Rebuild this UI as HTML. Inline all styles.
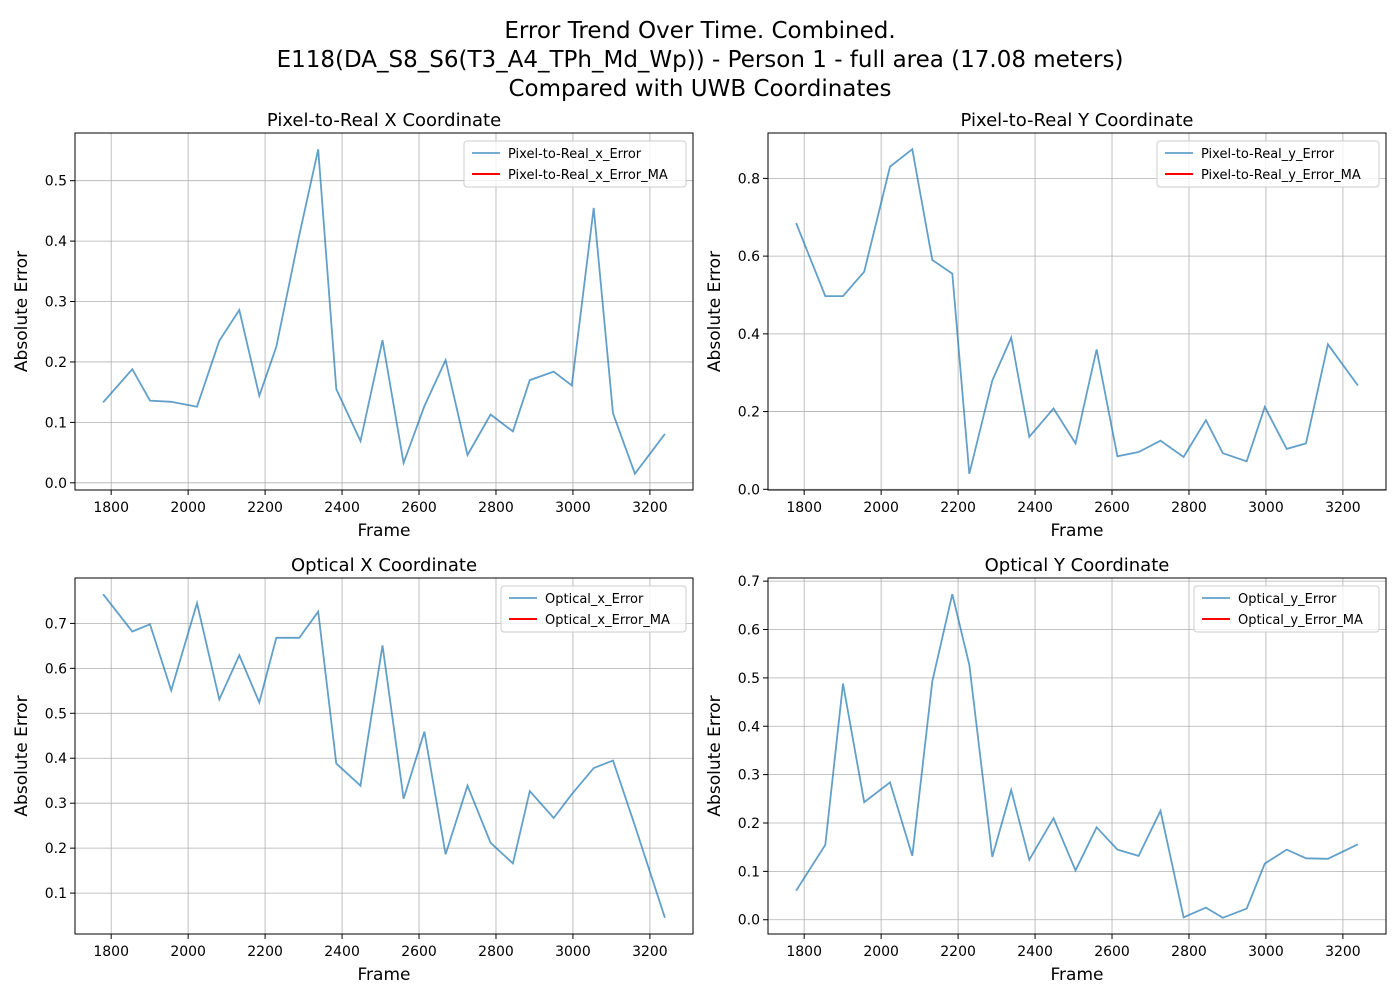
<!DOCTYPE html>
<html><head><meta charset="utf-8"><style>
body{margin:0;background:#fff;}
svg{font-family:"DejaVu Sans","Liberation Sans",sans-serif;}
</style></head><body>
<svg id="fig" width="1400" height="1000">
<text x="700" y="38" text-anchor="middle" font-size="23">Error Trend Over Time. Combined.</text>
<text x="700" y="67" text-anchor="middle" font-size="23">E118(DA_S8_S6(T3_A4_TPh_Md_Wp)) - Person 1 - full area (17.08 meters)</text>
<text x="700" y="96" text-anchor="middle" font-size="23">Compared with UWB Coordinates</text>
</svg>
<script>
const frames=[1779,1855,1901,1956,2023,2081,2133,2185,2229,2289,2338,2385,2448,2505,2560,2614,2669,2726,2786,2844,2888,2950,2997,3054,3104,3161,3239];
const pxErr=[0.133,0.188,0.136,0.134,0.126,0.235,0.286,0.144,0.225,0.41,0.552,0.155,0.069,0.236,0.033,0.127,0.203,0.046,0.113,0.085,0.170,0.184,0.161,0.455,0.115,0.015,0.081];
const pyErr=[0.685,0.497,0.497,0.56,0.83,0.875,0.59,0.555,0.04,0.28,0.39,0.135,0.208,0.118,0.36,0.085,0.096,0.125,0.083,0.178,0.093,0.072,0.212,0.104,0.118,0.373,0.267];
const oxErr=[0.765,0.682,0.698,0.551,0.745,0.531,0.629,0.524,0.668,0.668,0.726,0.388,0.339,0.651,0.310,0.459,0.186,0.339,0.212,0.166,0.327,0.267,0.32,0.378,0.395,0.25,0.045];
const oyErr=[0.06,0.155,0.488,0.243,0.284,0.132,0.493,0.673,0.527,0.13,0.268,0.124,0.21,0.102,0.191,0.145,0.132,0.225,0.005,0.025,0.004,0.023,0.116,0.145,0.127,0.126,0.156];
const xTicks=[1800,2000,2200,2400,2600,2800,3000,3200];
const yTicksTL=[0,0.1,0.2,0.3,0.4,0.5];
const yTicksTR=[0,0.2,0.4,0.6,0.8];
const yTicksBL=[0.1,0.2,0.3,0.4,0.5,0.6,0.7];
const yTicksBR=[0,0.1,0.2,0.3,0.4,0.5,0.6,0.7];
const NS='http://www.w3.org/2000/svg';
const fig=document.getElementById('fig');
function mk(tag,attrs,parent,text){const e=document.createElementNS(NS,tag);for(const k in attrs)e.setAttribute(k,attrs[k]);if(text!==undefined)e.textContent=text;(parent||fig).appendChild(e);return e;}
function panel(o){
  const g=mk('g',{});
  
  
  const L=o.x0,R=o.x1,T=o.y0,B=o.y1;
  const xs=v=>L+(v-1706)/(3312-1706)*(R-L);
  const ys=v=>B-(v-o.ymin)/(o.ymax-o.ymin)*(B-T);
  xTicks.forEach(t=>{const x=xs(t);
    const gl=mk('line',{x1:x,x2:x,y1:T,y2:B,stroke:'#b0b0b0','stroke-width':0.8},g);
    
    mk('line',{x1:x,x2:x,y1:B,y2:B+5,stroke:'#000'},g);
    const tl=mk('text',{x:x,y:B+22,'text-anchor':'middle','font-size':14},g,String(t));
    });
  o.yt.forEach(t=>{const y=ys(t);
    const gl=mk('line',{x1:L,x2:R,y1:y,y2:y,stroke:'#b0b0b0','stroke-width':0.8},g);
    
    mk('line',{x1:L-5,x2:L,y1:y,y2:y,stroke:'#000'},g);
    const tl=mk('text',{x:L-8,y:y+5,'text-anchor':'end','font-size':14},g,t.toFixed(1));
    });
  const pts=frames.map((f,i)=>xs(f).toFixed(1)+','+ys(o.data[i]).toFixed(1)).join(' ');
  const ln=mk('polyline',{points:pts,fill:'none',stroke:'#1f77b4','stroke-opacity':0.7,'stroke-width':1.8},g);
  
  const fr=mk('rect',{x:L,y:T,width:R-L,height:B-T,fill:'none',stroke:'#000','stroke-width':1},g);
  
  const ti=mk('text',{x:(L+R)/2,y:T-7,'text-anchor':'middle','font-size':18},g,o.title);
  
  const xl=mk('text',{x:(L+R)/2,y:B+46,'text-anchor':'middle','font-size':17},g,'Frame');
  
  const yx=L-48,yy=(T+B)/2;
  const yl=mk('text',{x:yx,y:yy,'text-anchor':'middle','font-size':17,transform:`rotate(-90 ${yx} ${yy})`},g,'Absolute Error');
  
  const lw=o.lw, lx=R-7-lw, ly=T+8;
  const lg=mk('g',{},g);
  
  mk('rect',{x:lx,y:ly,width:lw,height:46,rx:3,fill:'#fff','fill-opacity':0.8,stroke:'#ccc'},lg);
  mk('line',{x1:lx+8,x2:lx+36,y1:ly+12,y2:ly+12,stroke:'#1f77b4','stroke-opacity':0.7,'stroke-width':1.8},lg);
  const e1=mk('text',{x:lx+44,y:ly+17,'font-size':13},lg,o.lab);
  
  mk('line',{x1:lx+8,x2:lx+36,y1:ly+33,y2:ly+33,stroke:'#ff0000','stroke-width':2},lg);
  const e2=mk('text',{x:lx+44,y:ly+38,'font-size':13},lg,o.lab+'_MA');
  
}
panel({name:'pixel-x-panel',x0:75,x1:693,y0:133,y1:490,ymin:-0.0119,ymax:0.5789,yt:yTicksTL,data:pxErr,title:'Pixel-to-Real X Coordinate',lab:'Pixel-to-Real_x_Error',lw:222});
panel({name:'pixel-y-panel',x0:768,x1:1386,y0:133,y1:490,ymin:-0.0018,ymax:0.9168,yt:yTicksTR,data:pyErr,title:'Pixel-to-Real Y Coordinate',lab:'Pixel-to-Real_y_Error',lw:222});
panel({name:'optical-x-panel',x0:75,x1:693,y0:578,y1:934,ymin:0.009,ymax:0.801,yt:yTicksBL,data:oxErr,title:'Optical X Coordinate',lab:'Optical_x_Error',lw:185});
panel({name:'optical-y-panel',x0:768,x1:1386,y0:578,y1:934,ymin:-0.0295,ymax:0.7065,yt:yTicksBR,data:oyErr,title:'Optical Y Coordinate',lab:'Optical_y_Error',lw:185});
</script>
</body></html>
